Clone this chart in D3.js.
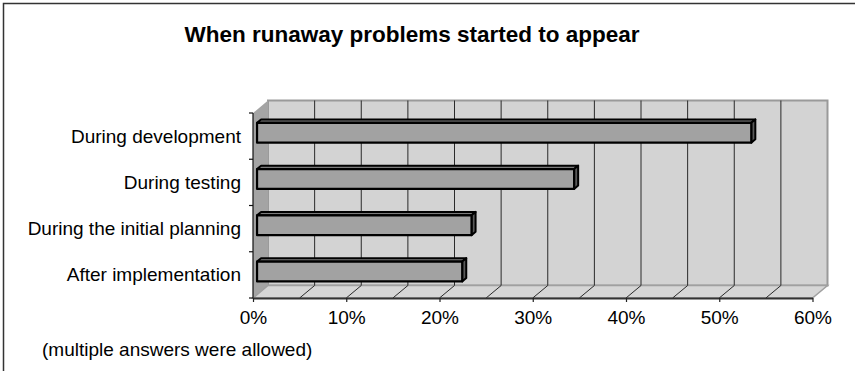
<!DOCTYPE html>
<html>
<head>
<meta charset="utf-8">
<script src="https://cdn.jsdelivr.net/npm/d3@7"></script>
<style>
  html, body { margin: 0; padding: 0; background: #fff; }
  svg { display: block; }
  text { font-family: "Liberation Sans", Arial, sans-serif; fill: #000; }
</style>
</head>
<body>
<svg id="chart" width="855" height="371"></svg>
<script>
// Survey: when runaway problems started to appear (share of respondents, %)
const categories = ["During development", "During testing", "During the initial planning", "After implementation"];
const values = [53, 34, 23, 22];
const tickValues = [0, 10, 20, 30, 40, 50, 60];
const gridValues = [5, 10, 15, 20, 25, 30, 35, 40, 45, 50, 55];
const titleText = "When runaway problems started to appear";
const noteText = "(multiple answers were allowed)";

const svg = d3.select("#chart");

// Oblique projection: depth z in [0,1] shifts right and up
const DX = 15, DY = -12.5;
const proj = (px, py, z) => [px + z * DX, py + z * DY];

const x = d3.scaleLinear().domain([0, 60]).range([253, 812.5]);
const y = d3.scaleBand().domain(categories).range([113, 298])
  .paddingInner(0.57).paddingOuter(0.285);

const x0 = x(0), x1 = x(60), yTop = 113, yBot = 298;
const line = d3.line();

// Outer frame (open on the right and bottom)
svg.append("rect").attr("x", 3.5).attr("y", 3.5).attr("width", 900).attr("height", 400)
  .attr("fill", "none").attr("stroke", "#333").attr("stroke-width", 1.5);

// Title
svg.append("text").attr("x", 412).attr("y", 42).attr("text-anchor", "middle")
  .style("font-size", "22.5px").style("font-weight", "bold").text(titleText);

// Back wall
const bw = [proj(x0, yTop, 1), proj(x1, yTop, 1), proj(x1, yBot, 1), proj(x0, yBot, 1)];
svg.append("path").attr("d", line(bw) + "Z").attr("fill", "#d3d3d3")
  .attr("stroke", "#9a9a9a").attr("stroke-width", 2);

// Side wall
const sw = [proj(x0, yTop, 0), proj(x0, yTop, 1), proj(x0, yBot, 1), proj(x0, yBot, 0)];
svg.append("path").attr("d", line(sw) + "Z").attr("fill", "#a4a4a4").attr("stroke", "none");

// Floor
const fl = [proj(x0, yBot, 0), proj(x0, yBot, 1), proj(x1, yBot, 1), proj(x1, yBot, 0)];
svg.append("path").attr("d", line(fl) + "Z").attr("fill", "#d6d6d6")
  .attr("stroke", "#a0a0a0").attr("stroke-width", 1.5);

// Gridlines on back wall and floor
gridValues.forEach(v => {
  svg.append("path").attr("d", line([proj(x(v), yTop, 1), proj(x(v), yBot, 1)]))
    .attr("stroke", "#2a2a2a").attr("stroke-width", 1).attr("fill", "none");
  svg.append("path").attr("d", line([proj(x(v), yBot, 0), proj(x(v), yBot, 1)]))
    .attr("stroke", "#2a2a2a").attr("stroke-width", 1).attr("fill", "none");
});

// Category axis line and ticks at slot boundaries
svg.append("path").attr("d", line([[x0, yTop], [x0, yBot]]))
  .attr("stroke", "#111").attr("stroke-width", 1.2);
const step = y.step();
d3.range(categories.length + 1).forEach(i => {
  const yy = yTop + i * step;
  svg.append("path").attr("d", line([[x0 - 4, yy], [x0, yy]]))
    .attr("stroke", "#111").attr("stroke-width", 1.2);
});

// Category labels
svg.selectAll("text.cat").data(categories).enter().append("text")
  .attr("class", "cat")
  .attr("x", 241)
  .attr("y", d => y(d) - y.step() * y.paddingOuter() + step / 2 + 6.5)
  .attr("text-anchor", "end")
  .style("font-size", "19px")
  .text(d => d);

// Bars: boxes between depth zA and zB
const zA = 0.27, zB = 0.54;
const bars = svg.selectAll("g.bar").data(categories.map((c, i) => ({ c, v: values[i] })))
  .enter().append("g").attr("class", "bar");
bars.each(function (d) {
  const g = d3.select(this);
  const xl = x(0), xr = x(d.v), yt = y(d.c), yb = y(d.c) + y.bandwidth();
  const top = [proj(xl, yt, zA), proj(xl, yt, zB), proj(xr, yt, zB), proj(xr, yt, zA)];
  const end = [proj(xr, yt, zA), proj(xr, yt, zB), proj(xr, yb, zB), proj(xr, yb, zA)];
  const front = [proj(xl, yt, zA), proj(xr, yt, zA), proj(xr, yb, zA), proj(xl, yb, zA)];
  g.append("path").attr("d", line(top) + "Z").attr("fill", "#7c7c7c")
    .attr("stroke", "#000").attr("stroke-width", 2).attr("stroke-linejoin", "round");
  g.append("path").attr("d", line(end) + "Z").attr("fill", "#5a5a5a")
    .attr("stroke", "#000").attr("stroke-width", 2).attr("stroke-linejoin", "round");
  g.append("path").attr("d", line(front) + "Z").attr("fill", "#a2a2a2")
    .attr("stroke", "#000").attr("stroke-width", 2.2).attr("stroke-linejoin", "round");
});

// Value axis
const xAxis = d3.axisBottom(x).tickValues(tickValues).tickFormat(d => d + "%")
  .tickSize(4).tickSizeOuter(0);
const ax = svg.append("g").attr("transform", `translate(0,${yBot})`).call(xAxis);
ax.select(".domain").attr("stroke", "#333").attr("stroke-width", 2);
ax.selectAll(".tick line").attr("stroke", "#222").attr("stroke-width", 1.2);
ax.selectAll(".tick text").attr("y", 13).attr("dy", "0.71em")
  .style("font-size", "19px").style("font-family", "'Liberation Sans', Arial, sans-serif").attr("fill", "#000");

// Footnote
svg.append("text").attr("x", 42).attr("y", 356).style("font-size", "19px").text(noteText);
</script>
</body>
</html>
